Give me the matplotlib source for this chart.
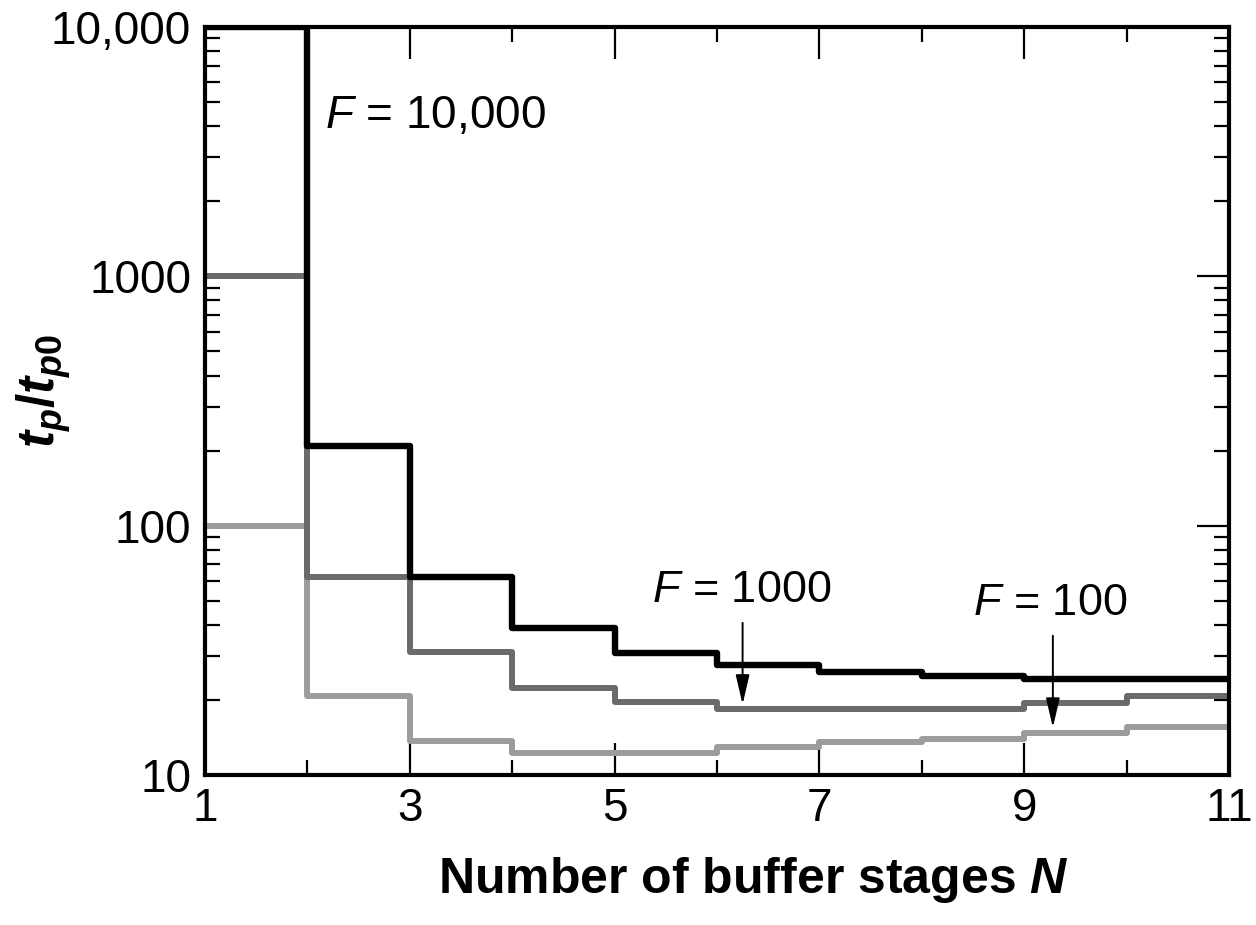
import numpy as np
import matplotlib
matplotlib.use('Agg')
import matplotlib.pyplot as plt
from matplotlib.ticker import FixedLocator, FixedFormatter, LogLocator, NullFormatter

plt.rcParams['font.family'] = ['Liberation Sans', 'DejaVu Sans']
plt.rcParams['mathtext.fontset'] = 'custom'
plt.rcParams['mathtext.rm'] = 'Liberation Sans:bold'
plt.rcParams['mathtext.it'] = 'Liberation Sans:italic:bold'
plt.rcParams['mathtext.sf'] = 'Liberation Sans:italic'

# Data: t_p / t_p0 for each number of buffer stages N (step from N to N+1)
stages = [1, 2, 3, 4, 5, 6, 7, 8, 9, 10]
f10000 = [10000, 208, 62, 38.9, 30.9, 27.6, 25.9, 25.0, 24.3, 24.3]
f1000 = [1000, 62, 31.0, 22.4, 19.7, 18.4, 18.4, 18.4, 19.5, 20.7]
f100 = [100, 20.8, 13.7, 12.3, 12.3, 12.9, 13.5, 14.0, 14.8, 15.6]

x_ticks = [1, 3, 5, 7, 9, 11]
y_ticks = [10, 100, 1000, 10000]
y_labels = ['10', '100', '1000', '10,000']

fig = plt.figure(figsize=(12.56, 9.25), dpi=100)
ax = fig.add_axes([0.1632, 0.1622, 0.8153, 0.8086])

def steps(vals):
    xs = stages + [stages[-1] + 1]
    ys = vals + [vals[-1]]
    return xs, ys

ax.step(*steps(f100), where='post', color='#9c9c9c', lw=4.3)
ax.step(*steps(f1000), where='post', color='#6a6a6a', lw=4.3)
ax.step(*steps(f10000), where='post', color='black', lw=4.6)

ax.set_yscale('log')
ax.set_xlim(1, 11)
ax.set_ylim(10, 10000)

ax.xaxis.set_major_locator(FixedLocator(x_ticks))
ax.xaxis.set_minor_locator(FixedLocator([2, 4, 6, 8, 10]))
ax.yaxis.set_major_locator(FixedLocator(y_ticks))
ax.yaxis.set_major_formatter(FixedFormatter(y_labels))
ax.yaxis.set_minor_locator(LogLocator(base=10, subs=np.arange(2, 10)))
ax.yaxis.set_minor_formatter(NullFormatter())

ax.tick_params(which='both', direction='in', top=True, right=True, width=1.6)
ax.tick_params(which='major', length=23, labelsize=33, pad=10)
ax.tick_params(which='minor', length=11)
ax.tick_params(axis='x', which='major', pad=9)
for s in ax.spines.values():
    s.set_linewidth(3)

# labels
ax.text(2.17, 3936, r'$\mathsf{F}$ = 10,000', fontsize=33, ha='left', va='baseline')
ax.text(6.24, 49.4, r'$\mathsf{F}$ = 1000', fontsize=32.5, ha='center', va='baseline')
ax.text(9.25, 43.8, r'$\mathsf{F}$ = 100', fontsize=32.5, ha='center', va='baseline')

arrow = dict(arrowstyle='-|>,head_length=1.8,head_width=0.42', color='black', lw=1.4)
ax.annotate('', xy=(6.25, 18.7), xytext=(6.25, 41.8), arrowprops=arrow)
ax.annotate('', xy=(9.28, 15.1), xytext=(9.28, 37.1), arrowprops=arrow)

fig.text(0.035, 0.578, r'$\mathit{t_p/t_{p0}}$', fontsize=37, rotation=90,
         ha='center', va='center')
fig.text(0.6, 0.049, r'Number of buffer stages $\mathit{N}$', fontsize=36,
         fontweight='bold', ha='center', va='center')

fig.savefig('out.png', dpi=100)
